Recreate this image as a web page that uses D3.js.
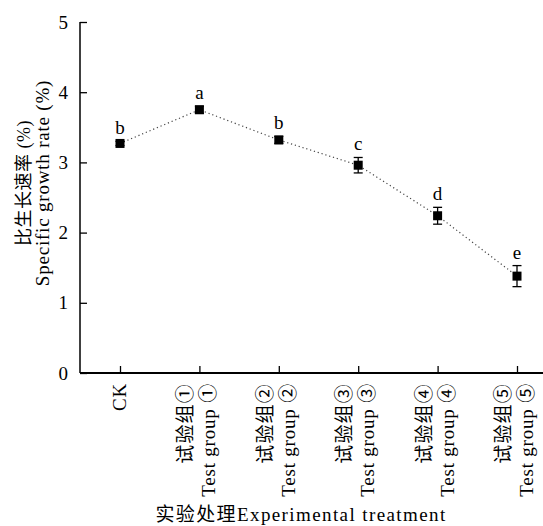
<!DOCTYPE html>
<html>
<head>
<meta charset="utf-8">
<script src="https://cdn.jsdelivr.net/npm/d3@7"></script>
<style>
  body { margin: 0; background: #fff; }
  text { font-family: "Liberation Serif", "Noto Sans CJK SC", serif; fill: #000; }
</style>
</head>
<body>
<div id="chart"></div>
<script>
// categories, values
let groupsCn = ["CK", "试验组①", "试验组②", "试验组③", "试验组④", "试验组⑤"]
let groupsEn = ["", "Test group ①", "Test group ②", "Test group ③", "Test group ④", "Test group ⑤"]
let rates = [3.27, 3.75, 3.32, 2.96, 2.24, 1.38]
let errors = [0.03, 0.05, 0.05, 0.11, 0.12, 0.15]
let letters = ["b", "a", "b", "c", "d", "e"]
let yTicks = [0, 1, 2, 3, 4, 5]

let width = 543
let height = 526

let svg = d3.select("#chart")
    .append("svg")
    .attr("width", width)
    .attr("height", height)

// scales
let x = d3.scalePoint().domain(groupsCn).range([120, 517])
let y = d3.scaleLinear().domain([0, 5]).range([373, 22])

let data = groupsCn.map((g, i) => ({ g: g, en: groupsEn[i], v: rates[i], e: errors[i], l: letters[i] }))

// y axis, ticks inward
let yAxis = svg.append("g")
    .attr("transform", "translate(80,0)")
    .call(d3.axisLeft(y).tickValues(yTicks).tickSize(-7).tickPadding(12).tickFormat(d3.format("d")))
yAxis.select(".domain").attr("d", "M0," + y(5) + "V" + y(0)).attr("stroke-width", 1.5)
yAxis.selectAll(".tick line").attr("stroke-width", 1.3)
yAxis.selectAll(".tick text").attr("font-size", 19).style("font-family", "Liberation Serif")

// x axis, ticks inward
let xAxis = svg.append("g")
    .attr("transform", "translate(0," + y(0) + ")")
    .call(d3.axisBottom(x).tickSize(-7).tickFormat(""))
xAxis.select(".domain").remove()
xAxis.selectAll(".tick line").attr("stroke-width", 1.3)
svg.append("line")
    .attr("x1", 80).attr("x2", width)
    .attr("y1", y(0)).attr("y2", y(0))
    .attr("stroke", "#000").attr("stroke-width", 2)

// x tick labels (rotated)
let labels = svg.append("g")
data.forEach(d => {
    let g = labels.append("g")
        .attr("transform", "translate(" + x(d.g) + "," + (y(0) + 10) + ") rotate(-90)")
    if (d.en === "") {
        g.append("text")
            .attr("text-anchor", "end")
            .attr("dy", "0.32em")
            .attr("font-size", 19)
            .attr("letter-spacing", 0.8)
            .text(d.g)
    } else {
        g.append("text")
            .attr("text-anchor", "end")
            .attr("y", -13)
            .attr("dy", "0.32em")
            .attr("font-size", 19)
            .attr("letter-spacing", 1.2)
            .text(d.g)
        g.append("text")
            .attr("text-anchor", "end")
            .attr("y", 10)
            .attr("dy", "0.32em")
            .attr("font-size", 19)
            .attr("letter-spacing", 0.8)
            .text(d.en)
    }
})

// dotted connecting line
svg.append("path")
    .datum(data)
    .attr("fill", "none")
    .attr("stroke", "#444")
    .attr("stroke-width", 1.2)
    .attr("stroke-dasharray", "1.2,2.8")
    .attr("d", d3.line().x(d => x(d.g)).y(d => y(d.v)))

// error bars
let eb = svg.append("g").selectAll("g")
    .data(data)
    .join("g")
eb.append("line")
    .attr("x1", d => x(d.g)).attr("x2", d => x(d.g))
    .attr("y1", d => y(d.v + d.e)).attr("y2", d => y(d.v - d.e))
    .attr("stroke", "#000").attr("stroke-width", 1.3)
eb.append("line")
    .attr("x1", d => x(d.g) - 4.5).attr("x2", d => x(d.g) + 4.5)
    .attr("y1", d => y(d.v + d.e)).attr("y2", d => y(d.v + d.e))
    .attr("stroke", "#000").attr("stroke-width", 1.3)
eb.append("line")
    .attr("x1", d => x(d.g) - 4.5).attr("x2", d => x(d.g) + 4.5)
    .attr("y1", d => y(d.v - d.e)).attr("y2", d => y(d.v - d.e))
    .attr("stroke", "#000").attr("stroke-width", 1.3)

// square markers
svg.append("g").selectAll("rect")
    .data(data)
    .join("rect")
    .attr("x", d => x(d.g) - 4.5)
    .attr("y", d => y(d.v) - 4.5)
    .attr("width", 9)
    .attr("height", 9)
    .attr("fill", "#000")

// significance letters
svg.append("g").selectAll("text")
    .data(data)
    .join("text")
    .attr("x", d => x(d.g))
    .attr("y", d => y(d.v + d.e) - 7)
    .attr("text-anchor", "middle")
    .attr("font-size", 19)
    .text(d => d.l)

// y axis title, two lines
let yTitle = svg.append("g").attr("transform", "translate(0,183) rotate(-90)")
yTitle.append("text")
    .attr("x", 0).attr("y", 24)
    .attr("text-anchor", "middle")
    .attr("dy", "0.35em")
    .attr("font-size", 18)
    .attr("letter-spacing", 0.5)
    .text("比生长速率 (%)")
yTitle.append("text")
    .attr("x", 0).attr("y", 42)
    .attr("text-anchor", "middle")
    .attr("dy", "0.35em")
    .attr("font-size", 19)
    .attr("letter-spacing", 0.8)
    .text("Specific growth rate (%)")

// x axis title
svg.append("text")
    .attr("x", 301)
    .attr("y", 521)
    .attr("text-anchor", "middle")
    .attr("font-size", 19)
    .attr("letter-spacing", 1.4)
    .text("实验处理Experimental treatment")
</script>
</body>
</html>
